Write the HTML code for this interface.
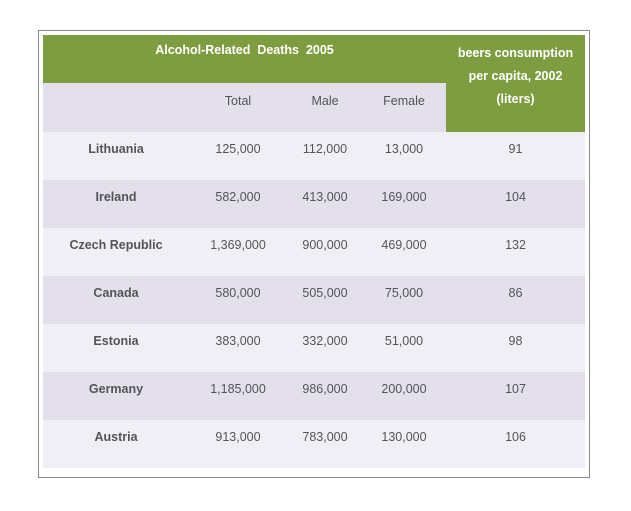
<!DOCTYPE html>
<html><head><meta charset="utf-8"><style>
body{margin:0;width:631px;height:511px;background:#fff;font-family:"Liberation Sans",Arial,sans-serif;position:relative;overflow:hidden}
.frame{position:absolute;left:38px;top:30px;width:550px;height:446px;border:1px solid #888}
.c{position:absolute;font-size:12.5px;color:#555;text-align:center;line-height:16px}
.b{font-weight:bold}
.w{color:#fff;font-weight:bold}
.bg{position:absolute}
</style></head><body>
<div class="frame"></div>
<div class="bg" style="left:43px;top:35px;width:403px;height:48px;background:#7e9c40"></div>
<div class="bg" style="left:446px;top:35px;width:139px;height:97px;background:#7e9c40"></div>
<div class="bg" style="left:43px;top:83px;width:403px;height:49px;background:#e3dfeb"></div>
<div class="c w" style="left:43px;top:42px;width:403px">Alcohol-Related&nbsp; Deaths&nbsp; 2005</div>
<div class="c w" style="left:446px;top:42px;width:139px;line-height:23px">beers consumption<br>per capita, 2002<br>(liters)</div>
<div class="c" style="left:188px;top:93px;width:100px">Total</div>
<div class="c" style="left:275px;top:93px;width:100px">Male</div>
<div class="c" style="left:354px;top:93px;width:100px">Female</div>
<div id="rows"></div>
<script>
const countries=["Lithuania","Ireland","Czech Republic","Canada","Estonia","Germany","Austria"];
const totals=["125,000","582,000","1,369,000","580,000","383,000","1,185,000","913,000"];
const males=["112,000","413,000","900,000","505,000","332,000","986,000","783,000"];
const females=["13,000","169,000","469,000","75,000","51,000","200,000","130,000"];
const beers=["91","104","132","86","98","107","106"];
const R=document.getElementById('rows');
countries.forEach((c,i)=>{
  const y=132+i*48;
  const bg=document.createElement('div');bg.className='bg';
  bg.style.cssText=`left:43px;top:${y}px;width:542px;height:48px;background:${i%2?'#e3dfeb':'#f1eff6'}`;
  
  
  R.appendChild(bg);
  const cells=[[c,46,140,true],[totals[i],188,100],[males[i],275,100],[females[i],354,100],[beers[i],446,139]];
  cells.forEach((d,j)=>{
    const e=document.createElement('div');e.className='c'+(d[3]?' b':'');
    e.style.cssText=`left:${d[1]}px;top:${y+9}px;width:${d[2]}px`;
    e.textContent=d[0];
    
    
    R.appendChild(e);
  });
});
</script>
</body></html>
